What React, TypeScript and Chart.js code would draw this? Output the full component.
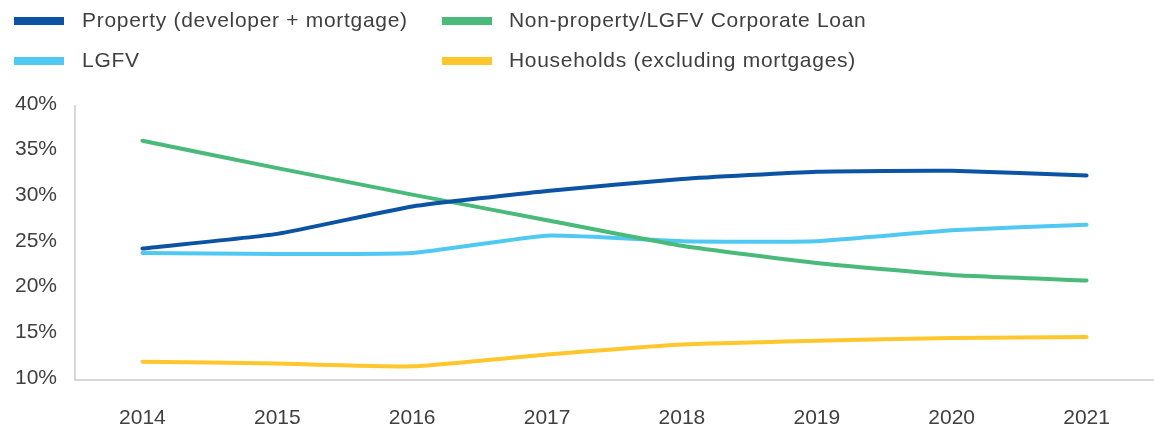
import React, { useEffect, useRef } from "react";
import { Chart, registerables } from "chart.js";

Chart.register(...registerables);

const years = ["2014", "2015", "2016", "2017", "2018", "2019", "2020", "2021"];
const property = [24.4, 26.0, 29.0, 30.7, 32.0, 32.8, 32.9, 32.4];
const nonProperty = [36.2, 33.2, 30.3, 27.5, 24.7, 22.8, 21.5, 20.9];
const lgfv = [23.9, 23.8, 23.9, 25.8, 25.2, 25.2, 26.4, 27.0];
const households = [12.0, 11.8, 11.5, 12.8, 13.9, 14.3, 14.6, 14.7];

const yTicks = [10, 15, 20, 25, 30, 35, 40];

const seriesNames = [
  "Property (developer + mortgage)",
  "Non-property/LGFV Corporate Loan",
  "LGFV",
  "Households (excluding mortgages)",
];
const colors = ["#0C53A3", "#49BA7A", "#50C9F2", "#FFC72C"];

const W = 1154;
const H = 430;
const FONT = "'Liberation Sans', Arial, sans-serif";
const TEXT = "#404040";

export default function App() {
  const ref = useRef<HTMLCanvasElement | null>(null);

  useEffect(() => {
    if (!ref.current) return;
    const data = [property, nonProperty, lgfv, households];
    const chart = new Chart(ref.current, {
      type: "line",
      data: {
        labels: years,
        datasets: data.map((d, i) => ({
          label: seriesNames[i],
          data: d,
          borderColor: colors[i],
          backgroundColor: colors[i],
          borderWidth: 4,
          borderCapStyle: "round",
          borderJoinStyle: "round",
          pointRadius: 0,
          tension: 0.15,
          fill: false,
        })),
      },
      options: {
        animation: false,
        responsive: false,
        maintainAspectRatio: false,
        layout: { padding: { top: 106, right: 0, bottom: 0, left: 0 } },
        plugins: {
          legend: { display: false },
          tooltip: { enabled: false },
        },
        scales: {
          x: {
            type: "category",
            offset: true,
            afterFit: (axis: any) => {
              axis.height = 50;
            },
            grid: { display: false, drawTicks: false },
            border: { display: true, color: "#D9D9D9", width: 2 },
            ticks: {
              color: TEXT,
              font: { family: FONT, size: 21 },
              padding: 26,
              maxRotation: 0,
              autoSkip: false,
            },
          },
          y: {
            min: 10,
            max: 40,
            afterBuildTicks: (axis: any) => {
              axis.ticks = yTicks.map((v) => ({ value: v }));
            },
            afterFit: (axis: any) => {
              axis.width = 75;
            },
            grid: { display: false, drawTicks: false },
            border: { display: true, color: "#D9D9D9", width: 2 },
            ticks: {
              color: TEXT,
              font: { family: FONT, size: 21 },
              padding: 18,
              labelOffset: -2,
              callback: (v: any) => `${v}%`,
            },
          },
        },
      },
    });
    return () => chart.destroy();
  }, []);

  const legendItems = [
    { name: seriesNames[0], color: colors[0], mx: 14, tx: 82, row: 0 },
    { name: seriesNames[1], color: colors[1], mx: 442, tx: 509, row: 0 },
    { name: seriesNames[2], color: colors[2], mx: 14, tx: 82, row: 1 },
    { name: seriesNames[3], color: colors[3], mx: 442, tx: 509, row: 1 },
  ];

  return (
    <div
      style={{
        position: "fixed",
        left: 0,
        top: 0,
        width: W,
        height: H,
        background: "#fff",
        overflow: "hidden",
      }}
    >
      <canvas
        ref={ref}
        width={W}
        height={H}
        style={{ position: "absolute", left: 0, top: 0, width: W, height: H }}
      />
      {legendItems.map((it, i) => (
        <React.Fragment key={i}>
          <div
            style={{
              position: "absolute",
              left: it.mx,
              top: 17 + it.row * 40,
              width: 50,
              height: 8,
              background: it.color,
            }}
          />
          <div
            style={{
              position: "absolute",
              left: it.tx,
              top: 9 + it.row * 40,
              fontFamily: FONT,
              fontSize: 21,
              lineHeight: "21px",
              letterSpacing: "0.7px",
              color: TEXT,
              whiteSpace: "nowrap",
            }}
          >
            {it.name}
          </div>
        </React.Fragment>
      ))}
    </div>
  );
}
